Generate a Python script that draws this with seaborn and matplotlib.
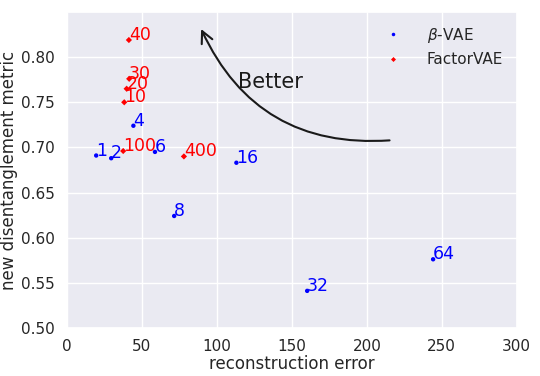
import pandas as pd
import matplotlib
matplotlib.use("Agg")
import matplotlib.pyplot as plt
import seaborn as sns

beta_vals = [1, 2, 4, 6, 8, 16, 32, 64]
beta_err = [19.5, 29.5, 44.3, 58.7, 71.5, 113.0, 160.2, 244.2]
beta_metric = [0.691, 0.688, 0.724, 0.695, 0.624, 0.683, 0.541, 0.576]

gamma_vals = [10, 20, 30, 40, 100, 400]
factor_err = [38.2, 39.8, 41.5, 41.3, 37.5, 78.0]
factor_metric = [0.750, 0.765, 0.776, 0.819, 0.696, 0.690]

df = pd.concat([
    pd.DataFrame({"err": beta_err, "metric": beta_metric, "model": r"$\beta$-VAE", "lab": beta_vals}),
    pd.DataFrame({"err": factor_err, "metric": factor_metric, "model": "FactorVAE", "lab": gamma_vals}),
])

sns.set_theme(style="darkgrid", rc={"xtick.major.pad": 2, "ytick.major.pad": 3})
fig = plt.figure(figsize=(5.4, 3.76), dpi=100)
ax = fig.add_axes([0.124, 0.128, 0.833, 0.84])

colors = {r"$\beta$-VAE": "#0000ff", "FactorVAE": "#ff0000"}
sns.scatterplot(data=df, x="err", y="metric", hue="model", style="model",
                markers={r"$\beta$-VAE": "o", "FactorVAE": "D"},
                palette=colors, s=10, linewidth=0, ax=ax)

for _, r in df.iterrows():
    ax.annotate(str(r["lab"]), (r["err"], r["metric"]), color=colors[r["model"]], fontsize=12.5)

ax.annotate("", xy=(88.7, 0.834), xytext=(217, 0.708),
            arrowprops=dict(arrowstyle="->,head_length=0.7,head_width=0.35", color="k", lw=1.5,
                            connectionstyle="arc3,rad=-0.35"))
ax.text(114, 0.766, "Better", fontsize=15, color="k")

ax.set_xlim(0, 300)
ax.set_ylim(0.5, 0.85)
ax.set_yticks([0.50, 0.55, 0.60, 0.65, 0.70, 0.75, 0.80])
ax.set_xlabel("reconstruction error", labelpad=1)
ax.set_ylabel("new disentanglement metric", labelpad=2)
ax.legend(loc="upper right", frameon=False, handletextpad=1.2, markerscale=0.8)

fig.savefig("out.png", dpi=100)
